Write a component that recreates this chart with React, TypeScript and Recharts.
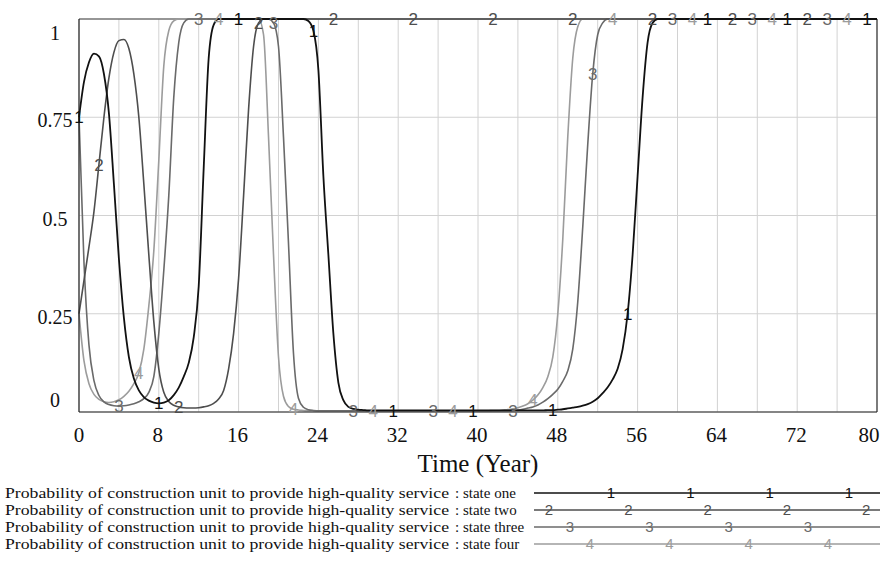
import React from "react";
import {
  LineChart,
  Line,
  XAxis,
  YAxis,
  CartesianGrid,
  ReferenceLine,
  Label,
} from "recharts";

// simulation time, years (0.5 step)
const TIME = [
  0, 0.5, 1, 1.5, 2, 2.5, 3, 3.5, 4, 4.5, 5, 5.5, 6, 6.5, 7, 7.5, 8, 8.5, 9, 9.5,
  10, 10.5, 11, 11.5, 12, 12.5, 13, 13.5, 14, 14.5, 15, 15.5, 16, 16.5, 17, 17.5, 18, 18.5, 19, 19.5,
  20, 20.5, 21, 21.5, 22, 22.5, 23, 23.5, 24, 24.5, 25, 25.5, 26, 26.5, 27, 27.5, 28, 28.5, 29, 29.5,
  30, 30.5, 31, 31.5, 32, 32.5, 33, 33.5, 34, 34.5, 35, 35.5, 36, 36.5, 37, 37.5, 38, 38.5, 39, 39.5,
  40, 40.5, 41, 41.5, 42, 42.5, 43, 43.5, 44, 44.5, 45, 45.5, 46, 46.5, 47, 47.5, 48, 48.5, 49, 49.5,
  50, 50.5, 51, 51.5, 52, 52.5, 53, 53.5, 54, 54.5, 55, 55.5, 56, 56.5, 57, 57.5, 58, 58.5, 59, 59.5,
  60, 60.5, 61, 61.5, 62, 62.5, 63, 63.5, 64, 64.5, 65, 65.5, 66, 66.5, 67, 67.5, 68, 68.5, 69, 69.5,
  70, 70.5, 71, 71.5, 72, 72.5, 73, 73.5, 74, 74.5, 75, 75.5, 76, 76.5, 77, 77.5, 78, 78.5, 79, 79.5,
  80,
];

const STATE_ONE = [
  0.75, 0.84, 0.89, 0.912, 0.905, 0.86, 0.76, 0.58, 0.39, 0.24,
  0.14, 0.085, 0.055, 0.038, 0.029, 0.024, 0.022, 0.024, 0.03, 0.043,
  0.062, 0.09, 0.125, 0.19, 0.32, 0.62, 0.9, 0.985, 1, 1,
  1, 1, 1, 1, 1, 1, 1, 1, 1, 1,
  1, 1, 1, 1, 1, 1, 0.995, 0.97, 0.87, 0.6,
  0.4, 0.2, 0.075, 0.03, 0.013, 0.008, 0.006, 0.005, 0.004, 0.004,
  0.004, 0.004, 0.004, 0.004, 0.004, 0.004, 0.004, 0.004, 0.004, 0.004,
  0.004, 0.004, 0.004, 0.004, 0.004, 0.004, 0.004, 0.004, 0.004, 0.004,
  0.004, 0.004, 0.004, 0.004, 0.004, 0.004, 0.004, 0.004, 0.004, 0.004,
  0.004, 0.004, 0.004, 0.004, 0.005, 0.005, 0.006, 0.007, 0.009, 0.011,
  0.013, 0.016, 0.02, 0.026, 0.035, 0.048, 0.063, 0.083, 0.11, 0.16,
  0.25, 0.4, 0.6, 0.8, 0.94, 0.99, 1, 1, 1, 1,
  1, 1, 1, 1, 1, 1, 1, 1, 1, 1,
  1, 1, 1, 1, 1, 1, 1, 1, 1, 1,
  1, 1, 1, 1, 1, 1, 1, 1, 1, 1,
  1, 1, 1, 1, 1, 1, 1, 1, 1, 1,
  1,
];

const STATE_TWO = [
  0.25, 0.335, 0.42, 0.51, 0.63, 0.75, 0.85, 0.915, 0.945, 0.948,
  0.925, 0.86, 0.75, 0.58, 0.4, 0.23, 0.11, 0.05, 0.027, 0.017,
  0.013, 0.011, 0.01, 0.01, 0.011, 0.013, 0.016, 0.022, 0.033, 0.055,
  0.11, 0.2, 0.34, 0.55, 0.77, 0.93, 0.99, 1, 1, 1,
  1, 1, 1, 1, 1, 1, 1, 1, 1, 1,
  1, 1, 1, 1, 1, 1, 1, 1, 1, 1,
  1, 1, 1, 1, 1, 1, 1, 1, 1, 1,
  1, 1, 1, 1, 1, 1, 1, 1, 1, 1,
  1, 1, 1, 1, 1, 1, 1, 1, 1, 1,
  1, 1, 1, 1, 1, 1, 1, 1, 1, 1,
  1, 1, 1, 1, 1, 1, 1, 1, 1, 1,
  1, 1, 1, 1, 1, 1, 1, 1, 1, 1,
  1, 1, 1, 1, 1, 1, 1, 1, 1, 1,
  1, 1, 1, 1, 1, 1, 1, 1, 1, 1,
  1, 1, 1, 1, 1, 1, 1, 1, 1, 1,
  1, 1, 1, 1, 1, 1, 1, 1, 1, 1,
  1,
];

const STATE_THREE = [
  0.75, 0.38, 0.17, 0.08, 0.042, 0.026, 0.019, 0.016, 0.015, 0.016,
  0.018, 0.021, 0.026, 0.034, 0.05, 0.09, 0.2, 0.36, 0.55, 0.8,
  0.94, 0.99, 1, 1, 1, 1, 1, 1, 1, 1,
  1, 1, 1, 1, 1, 1, 1, 1, 1, 0.99,
  0.93, 0.7, 0.43, 0.15, 0.035, 0.012, 0.006, 0.004, 0.003, 0.003,
  0.003, 0.003, 0.003, 0.003, 0.003, 0.003, 0.003, 0.003, 0.003, 0.003,
  0.003, 0.003, 0.003, 0.003, 0.003, 0.003, 0.003, 0.003, 0.003, 0.003,
  0.003, 0.003, 0.003, 0.003, 0.003, 0.003, 0.003, 0.003, 0.003, 0.003,
  0.003, 0.003, 0.003, 0.003, 0.003, 0.003, 0.003, 0.004, 0.005, 0.007,
  0.01, 0.013, 0.018, 0.025, 0.034, 0.045, 0.058, 0.078, 0.105, 0.16,
  0.28, 0.47, 0.68, 0.86, 0.96, 0.99, 1, 1, 1, 1,
  1, 1, 1, 1, 1, 1, 1, 1, 1, 1,
  1, 1, 1, 1, 1, 1, 1, 1, 1, 1,
  1, 1, 1, 1, 1, 1, 1, 1, 1, 1,
  1, 1, 1, 1, 1, 1, 1, 1, 1, 1,
  1, 1, 1, 1, 1, 1, 1, 1, 1, 1,
  1,
];

const STATE_FOUR = [
  0.25, 0.13, 0.072, 0.045, 0.032, 0.026, 0.024, 0.026, 0.031, 0.04,
  0.053, 0.072, 0.1, 0.16, 0.27, 0.41, 0.64, 0.88, 0.97, 0.995,
  1, 1, 1, 1, 1, 1, 1, 1, 1, 1,
  1, 1, 1, 1, 1, 1, 1, 0.96, 0.7, 0.4,
  0.14, 0.04, 0.014, 0.007, 0.005, 0.004, 0.003, 0.003, 0.003, 0.003,
  0.003, 0.003, 0.003, 0.003, 0.003, 0.003, 0.003, 0.003, 0.003, 0.003,
  0.003, 0.003, 0.003, 0.003, 0.003, 0.003, 0.003, 0.003, 0.003, 0.003,
  0.003, 0.003, 0.003, 0.003, 0.003, 0.003, 0.003, 0.003, 0.003, 0.003,
  0.003, 0.003, 0.003, 0.004, 0.004, 0.005, 0.006, 0.008, 0.011, 0.015,
  0.021, 0.03, 0.043, 0.062, 0.09, 0.14, 0.25, 0.44, 0.7, 0.9,
  0.98, 1, 1, 1, 1, 1, 1, 1, 1, 1,
  1, 1, 1, 1, 1, 1, 1, 1, 1, 1,
  1, 1, 1, 1, 1, 1, 1, 1, 1, 1,
  1, 1, 1, 1, 1, 1, 1, 1, 1, 1,
  1, 1, 1, 1, 1, 1, 1, 1, 1, 1,
  1, 1, 1, 1, 1, 1, 1, 1, 1, 1,
  1,
];

// times where the series number is printed on the curve
const MARKS_ONE = [0, 8, 16, 23.5, 31.5, 39.5, 47.5, 55, 63, 71, 79];
const MARKS_TWO = [2, 10, 18, 25.5, 33.5, 41.5, 49.5, 57.5, 65.5, 73];
const MARKS_THREE = [4, 12, 19.5, 27.5, 35.5, 43.5, 51.5, 59.5, 67.5, 75];
const MARKS_FOUR = [6, 14, 21.5, 29.5, 37.5, 45.5, 53.5, 61.5, 69.5, 77];

const X_TICKS = [0, 4, 8, 12, 16, 20, 24, 28, 32, 36, 40, 44, 48, 52, 56, 60, 64, 68, 72, 76, 80];
const Y_TICKS = [0, 0.25, 0.5, 0.75, 1];

const LEGEND_TEXT = "Probability of construction unit to provide high-quality service";
const STATE_NAMES = ["state one", "state two", "state three", "state four"];

const SERIES = [
  { key: "s4", num: "4", color: "#9c9c9c", width: 1.6, marks: MARKS_FOUR },
  { key: "s3", num: "3", color: "#6a6a6a", width: 1.6, marks: MARKS_THREE },
  { key: "s2", num: "2", color: "#4e4e4e", width: 1.6, marks: MARKS_TWO },
  { key: "s1", num: "1", color: "#111111", width: 1.8, marks: MARKS_ONE },
];

const data = TIME.map((t, i) => ({
  time: t,
  s1: STATE_ONE[i],
  s2: STATE_TWO[i],
  s3: STATE_THREE[i],
  s4: STATE_FOUR[i],
}));

const SERIF = '"Liberation Serif", "Times New Roman", serif';
const SANS = '"Liberation Sans", Arial, sans-serif';

const XTick = (props: any) => {
  const { x, y, payload } = props;
  const v = payload.value;
  if (v % 8 !== 0) return <g />;
  const shift = v === 80 ? -8 : v === 0 ? 0 : -1;
  return (
    <text x={x + shift} y={y + 28} textAnchor="middle" fontSize={21} fontFamily={SERIF} fill="#111">
      {v}
    </text>
  );
};

const YTick = (props: any) => {
  const { y, payload } = props;
  const v = payload.value;
  const dy = v === 1 ? 21 : v === 0 ? -5 : 10;
  return (
    <text x={55} y={y + dy} textAnchor="middle" fontSize={20} fontFamily={SERIF} fill="#111">
      {v}
    </text>
  );
};

const makeDot = (num: string, color: string, marks: number[]) => (props: any) => {
  const { cx, cy, payload, index } = props;
  if (!marks.includes(payload.time)) return <g key={index} />;
  return (
    <text
      key={index}
      x={cx}
      y={cy}
      dy="0.36em"
      textAnchor="middle"
      fontSize={17}
      fontFamily={SANS}
      fill={color}
    >
      {num}
    </text>
  );
};

// legend rows follow Vensim order 1..4
const LEGEND_ROWS = [
  { num: "1", color: "#111111", first: 611 },
  { num: "2", color: "#4e4e4e", first: 549 },
  { num: "3", color: "#6a6a6a", first: 570 },
  { num: "4", color: "#9c9c9c", first: 590 },
];

function Legend() {
  return (
    <svg
      width={892}
      height={561}
      style={{ position: "absolute", left: 0, top: 0, pointerEvents: "none" }}
    >
      {LEGEND_ROWS.map((row, i) => {
        const y = 493 + i * 17;
        const marks: number[] = [];
        for (let p = row.first; p < 880; p += 79.3) marks.push(p);
        return (
          <g key={row.num}>
            <text x={5} y={y + 5} fontSize={15} fontFamily={SERIF} fill="#111" textLength={444} lengthAdjust="spacingAndGlyphs">
              {LEGEND_TEXT}
            </text>
            <text x={455} y={y + 5} fontSize={15} fontFamily={SERIF} fill="#111">
              {": " + STATE_NAMES[i]}
            </text>
            <line x1={534} x2={880} y1={y} y2={y} stroke={row.color} strokeWidth={1.6} />
            {marks.map((m) => (
              <text key={m} x={m} y={y} dy="0.36em" textAnchor="middle" fontSize={15} fontFamily={SANS} fill={row.color}>
                {row.num}
              </text>
            ))}
          </g>
        );
      })}
    </svg>
  );
}

export default function App() {
  return (
    <div style={{ position: "absolute", left: 0, top: 0, width: 892, height: 561, background: "#fff" }}>
      <LineChart width={892} height={480} data={data} margin={{ top: 19, right: 15, left: 0, bottom: 0 }}>
        <CartesianGrid stroke="#d2d2d2" strokeWidth={1} />
        <XAxis
          dataKey="time"
          type="number"
          domain={[0, 80]}
          ticks={X_TICKS}
          interval={0}
          tick={(p: any) => <XTick {...p} />}
          tickLine={false}
          tickSize={0}
          height={68}
          axisLine={{ stroke: "#222", strokeWidth: 1.2 }}
        >
          <Label
            value="Time (Year)"
            position="insideBottom"
            offset={8}
            style={{ fontSize: 25, fontFamily: SERIF, fill: "#111" }}
          />
        </XAxis>
        <YAxis
          domain={[0, 1]}
          ticks={Y_TICKS}
          width={79}
          interval={0}
          tick={(p: any) => <YTick {...p} />}
          tickLine={false}
          axisLine={{ stroke: "#222", strokeWidth: 1.2 }}
        />
        <ReferenceLine y={1} stroke="#444" strokeWidth={1.2} />
        <ReferenceLine x={80} stroke="#333" strokeWidth={1.2} />
        {SERIES.map((s) => (
          <Line
            key={s.key}
            dataKey={s.key}
            type="monotone"
            stroke={s.color}
            strokeWidth={s.width}
            dot={makeDot(s.num, s.color, s.marks)}
            activeDot={false}
            isAnimationActive={false}
          />
        ))}
      </LineChart>
      <Legend />
    </div>
  );
}
